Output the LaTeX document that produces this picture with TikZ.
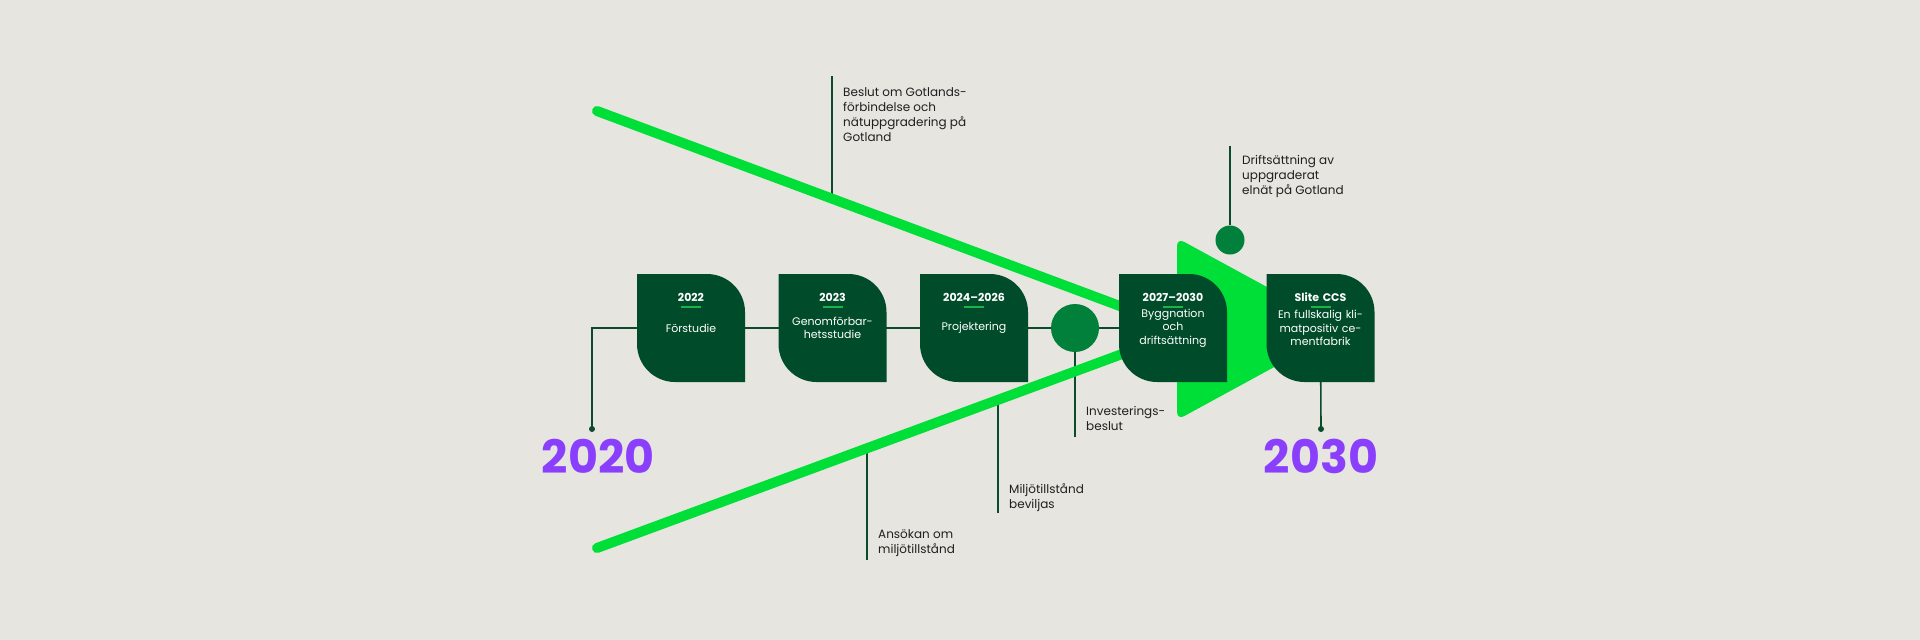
\documentclass[tikz,border=0pt]{standalone}
\usepackage{fontspec}
\setmainfont{Poppins}
\usetikzlibrary{positioning}
\definecolor{paper}{HTML}{E6E5DF}
\definecolor{leafgreen}{HTML}{004C2A}
\definecolor{dotgreen}{HTML}{00803A}
\definecolor{limegreen}{HTML}{00DE38}
\definecolor{linkgreen}{HTML}{0B4A2A}
\definecolor{dashgreen}{HTML}{19B34A}
\definecolor{yearviolet}{HTML}{8A3FFC}
\pgfdeclarelayer{back}
\pgfsetlayers{back,main}

\begin{document}
\begin{tikzpicture}
	[x=1pt,y=1pt,
	leaf/.style={minimum width=108,minimum height=108,inner sep=0,text width=104,align=center,
		text=white,font=\fontsize{11}{13.5}\selectfont,
		path picture={
			\fill[leafgreen] (path picture bounding box.north west)
				-- ([xshift=-38pt]path picture bounding box.north east) arc[start angle=90,end angle=0,radius=38pt]
				-- (path picture bounding box.south east)
				-- ([xshift=38pt]path picture bounding box.south west) arc[start angle=270,end angle=180,radius=38pt]
				-- cycle;
			\node[font=\fontsize{11}{13}\selectfont\bfseries,text=white] at ([yshift=-23pt]path picture bounding box.north) {#1};
			\fill[dashgreen] ([shift={(-10pt,-34pt)}]path picture bounding box.north) rectangle ([shift={(10pt,-32pt)}]path picture bounding box.north);
		}},
	milestone/.style={circle,fill=dotgreen,inner sep=0,minimum size=#1},
	pin/.style={circle,fill=linkgreen,inner sep=0,minimum size=6},
	note/.style={align=left,anchor=north west,inner sep=0,font=\fontsize{12}{15}\selectfont,text=black!88},
	yearmark/.style={font=\fontsize{46}{46}\selectfont\bfseries,text=yearviolet,inner sep=0},
	link/.style={draw=linkgreen,line width=1.6},
	ray/.style={draw=limegreen,line width=10,line cap=round}]

		\useasboundingbox (0,0) rectangle (1920,-640);

		\node[leaf=2022] (b1) at (691,-328) {Förstudie};
		\node[leaf=2023] (b2) at (832.5,-328) {Genomförbar-\\hetsstudie};
		\node[leaf=2024–2026] (b3) at (974,-328) {Projektering};
		\node[milestone=48] (inv) at (1075,-328) {};
		\node[leaf=2027–2030] (b4) at (1173,-328) {Byggnation\\och\\driftsättning};
		\node[leaf=Slite CCS] (b5) at (1320.5,-328) {En fullskalig kli-\\matpositiv ce-\\mentfabrik};
		\node[milestone=29] (grid) at (1230,-240) {};

		\node[pin] (d2020) at (592,-429) {};
		\node[pin] (d2030) at (1321,-429) {};
		\node[yearmark,below=7pt of d2020,xshift=6pt] (y2020) {2020};
		\node[yearmark,below=7pt of d2030] (y2030) {2030};

		\node[note] (beslut) at (843,-87) {Beslut om Gotlands-\\förbindelse och\\nätuppgradering på\\Gotland};
		\node[note] (drift) at (1242,-155) {Driftsättning av\\uppgraderat\\elnät på Gotland};
		\node[note] (ansokan) at (878,-529) {Ansökan om\\miljötillstånd};
		\node[note] (miljo) at (1009,-483) {Miljötillstånd\\beviljas};
		\node[note] (invest) at (1086,-406) {Investerings-\\beslut};

		\coordinate (k1) at (832,-76);
		\coordinate (k2) at (832,-199);
		\coordinate (k3) at (1230,-146);
		\coordinate (k4) at (867,-449);
		\coordinate (k5) at (867,-560);
		\coordinate (k6) at (998,-400);
		\coordinate (k7) at (998,-513);
		\coordinate (k8) at (1075,-437);

		\begin{pgfonlayer}{back}
			\fill[paper] (0,0) rectangle (1920,-640);
			\fill[limegreen,rounded corners=8] (1177,-238) -- (1344,-329) -- (1177,-420) -- cycle;
			\draw[link] (k1) -- (k2);
			\draw[link] (k3) -- (grid);
			\draw[link] (k4) -- (k5);
			\draw[link] (k6) -- (k7);
			\draw[link] (inv.center) -- (k8);
			\draw[ray] (597,-111) -- (1160,-321);
			\draw[ray] (597,-548) -- (1160,-340);
			\draw[link] (d2020.center) |- (b4.center);
			\draw[link] (b5.center) -- (d2030.center);
		\end{pgfonlayer}
\end{tikzpicture}
\end{document}
